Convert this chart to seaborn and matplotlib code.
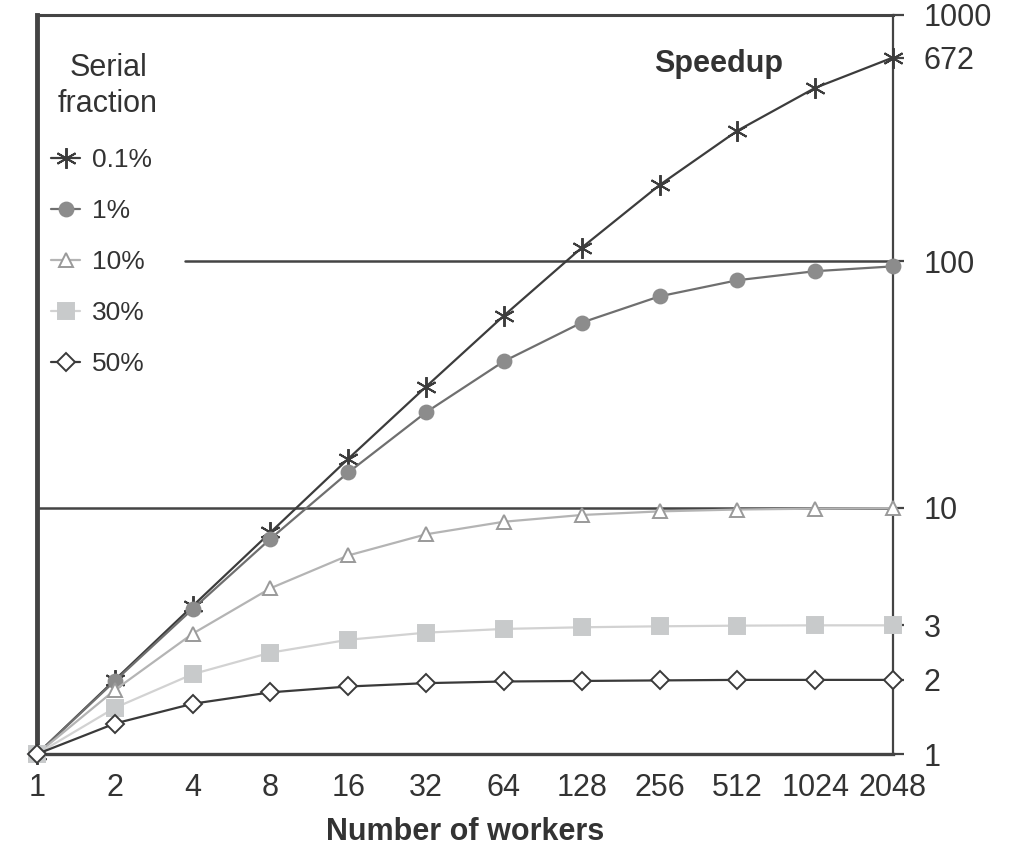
import matplotlib

matplotlib.use('Agg')
import matplotlib.pyplot as plt

import numpy as np
import pandas as pd
import seaborn as sns

# data
workers = [1, 2, 4, 8, 16, 32, 64, 128, 256, 512, 1024, 2048]
speedup_01 = [1, 2.00, 3.99, 7.94, 15.8, 31.0, 60.2, 113.6, 204, 339, 506, 672]
speedup_1 = [1, 1.98, 3.88, 7.48, 13.9, 24.4, 39.3, 56.4, 72.1, 83.8, 91.2, 95.4]
speedup_10 = [1, 1.82, 3.08, 4.71, 6.40, 7.80, 8.77, 9.34, 9.66, 9.83, 9.91, 9.96]
speedup_30 = [1, 1.54, 2.11, 2.58, 2.91, 3.11, 3.22, 3.27, 3.30, 3.32, 3.33, 3.33]
speedup_50 = [1, 1.33, 1.60, 1.78, 1.88, 1.94, 1.97, 1.98, 1.99, 2.00, 2.00, 2.00]
fractions = ['0.1%', '1%', '10%', '30%', '50%']
y_ticks = [1, 2, 10 / 3, 10, 100, 672, 1000]
y_tick_labels = ['1', '2', '3', '10', '100', '672', '1000']

series = [speedup_01, speedup_1, speedup_10, speedup_30, speedup_50]
df = pd.DataFrame({
    'workers': workers * len(series),
    'speedup': np.concatenate(series),
    'fraction': np.repeat(fractions, len(workers)),
})

# line colour, marker, marker size, face colour, edge colour
styles = {
    '0.1%': ('#3c3c3c', (6, 2, 0), 15, '#3c3c3c', '#3c3c3c'),
    '1%': ('#6f6f6f', 'o', 10, '#8c8c8c', '#8c8c8c'),
    '10%': ('#b4b4b4', '^', 10, 'white', '#9a9a9a'),
    '30%': ('#d2d2d2', 's', 11, '#c8cacb', '#c8cacb'),
    '50%': ('#3a3a3a', 'D', 9, 'white', '#3a3a3a'),
}

sns.set_style('white')
plt.rcParams['font.family'] = ['Liberation Sans', 'DejaVu Sans']
text_col = '#333333'

fig = plt.figure(figsize=(10.15, 8.46), dpi=100)
ax = fig.add_axes([0.0365, 0.1087, 0.8433, 0.8736])

for frac in fractions:
    col, mk, ms, fc, ec = styles[frac]
    sns.lineplot(data=df[df['fraction'] == frac], x='workers', y='speedup',
                 ax=ax, color=col, marker=mk, markersize=ms,
                 markerfacecolor=fc, markeredgecolor=ec, markeredgewidth=1.4,
                 linewidth=1.6, label=frac, clip_on=False, zorder=3)

ax.set_xscale('log', base=2)
ax.set_yscale('log')
ax.set_xlim(1, 2048)
ax.set_ylim(1, 1000)

# reference lines
ax.axhline(10, color='#444444', lw=1.8, zorder=2)
ax.axhline(100, xmin=0.173, color='#444444', lw=1.8, zorder=2)

ax.set_xticks(workers)
ax.set_xticklabels([str(w) for w in workers])
ax.yaxis.tick_right()
ax.set_yticks(y_ticks)
ax.set_yticklabels(y_tick_labels)
ax.minorticks_off()
ax.tick_params(axis='x', direction='out', length=7, width=1.6, color='#444444',
               labelsize=22, labelcolor=text_col, pad=7)
ax.tick_params(axis='y', direction='out', length=8, width=1.6, color='#444444',
               labelsize=22, labelcolor=text_col, pad=14)

for side, lw in [('left', 3.5), ('right', 1.6), ('top', 2.2), ('bottom', 2.4)]:
    ax.spines[side].set_visible(True)
    ax.spines[side].set_color('#444444')
    ax.spines[side].set_linewidth(lw)

ax.set_xlabel('Number of workers', fontsize=22, fontweight='bold', color=text_col, labelpad=10)
ax.set_ylabel('')
ax.text(0.796, 0.934, 'Speedup', transform=ax.transAxes, fontsize=22,
        fontweight='bold', color=text_col, ha='center', va='center')

# legend title placed on its own, centred like the reference
ax.text(0.083, 0.904, 'Serial\nfraction', transform=ax.transAxes, fontsize=22,
        color=text_col, ha='center', va='center', linespacing=1.25)
leg = ax.legend(loc='upper left', bbox_to_anchor=(0.0045, 0.834),
                frameon=False, fontsize=19, handlelength=1.1,
                handletextpad=0.45, labelspacing=1.02, borderaxespad=0)
for t in leg.get_texts():
    t.set_color(text_col)

fig.savefig('out.png', dpi=100)
plt.close(fig)
